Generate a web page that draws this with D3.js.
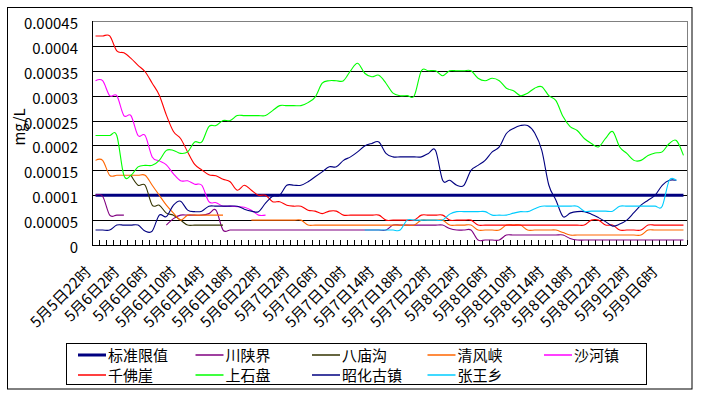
<!DOCTYPE html>
<html><head><meta charset="utf-8">
<script src="https://cdn.jsdelivr.net/npm/d3@7"></script>
<style>
body{margin:0;background:#fff}
svg{display:block}
text{font-family:"Noto Sans CJK SC","Noto Sans",sans-serif;fill:#000}
</style>
</head><body>
<svg id="c" width="702" height="407"></svg>
<script>
const categories = [
"5月5日22时","5月5日23时",
"5月6日0时","5月6日1时","5月6日2时","5月6日3时","5月6日4时","5月6日5时","5月6日6时","5月6日7时","5月6日8时","5月6日9时","5月6日10时","5月6日11时",
"5月6日12时","5月6日13时","5月6日14时","5月6日15时","5月6日16时","5月6日17时","5月6日18时","5月6日19时","5月6日20时","5月6日21时","5月6日22时","5月6日23时",
"5月7日0时","5月7日1时","5月7日2时","5月7日3时","5月7日4时","5月7日5时","5月7日6时","5月7日7时","5月7日8时","5月7日9时","5月7日10时","5月7日11时",
"5月7日12时","5月7日13时","5月7日14时","5月7日15时","5月7日16时","5月7日17时","5月7日18时","5月7日19时","5月7日20时","5月7日21时","5月7日22时","5月7日23时",
"5月8日0时","5月8日1时","5月8日2时","5月8日3时","5月8日4时","5月8日5时","5月8日6时","5月8日7时","5月8日8时","5月8日9时","5月8日10时","5月8日11时",
"5月8日12时","5月8日13时","5月8日14时","5月8日15时","5月8日16时","5月8日17时","5月8日18时","5月8日19时","5月8日20时","5月8日21时","5月8日22时","5月8日23时",
"5月9日0时","5月9日1时","5月9日2时","5月9日3时","5月9日4时","5月9日5时","5月9日6时","5月9日7时","5月9日8时","5月9日9时"];

const tickLabels = ["5月5日22时","5月6日2时","5月6日6时","5月6日10时","5月6日14时","5月6日18时","5月6日22时",
"5月7日2时","5月7日6时","5月7日10时","5月7日14时","5月7日18时","5月7日22时",
"5月8日2时","5月8日6时","5月8日10时","5月8日14时","5月8日18时","5月8日22时","5月9日2时","5月9日6时"];

const yTicks = [0,0.00005,0.0001,0.00015,0.0002,0.00025,0.0003,0.00035,0.0004,0.00045];
const yTickLabels = ["0","0.00005","0.0001","0.00015","0.0002","0.00025","0.0003","0.00035","0.0004","0.00045"];

const seriesNames = ["标准限值","川陕界","八庙沟","清风峡","沙河镇","千佛崖","上石盘","昭化古镇","张王乡"];
const seriesColors = ["#000080","#800080","#333300","#FF6600","#FF00FF","#FF0000","#00FF00","#000080","#00CCFF"];

const biaozhun = [
0.0001,0.0001,0.0001,0.0001,0.0001,0.0001,0.0001,0.0001,0.0001,0.0001,0.0001,0.0001,
0.0001,0.0001,0.0001,0.0001,0.0001,0.0001,0.0001,0.0001,0.0001,0.0001,0.0001,0.0001,
0.0001,0.0001,0.0001,0.0001,0.0001,0.0001,0.0001,0.0001,0.0001,0.0001,0.0001,0.0001,
0.0001,0.0001,0.0001,0.0001,0.0001,0.0001,0.0001,0.0001,0.0001,0.0001,0.0001,0.0001,
0.0001,0.0001,0.0001,0.0001,0.0001,0.0001,0.0001,0.0001,0.0001,0.0001,0.0001,0.0001,
0.0001,0.0001,0.0001,0.0001,0.0001,0.0001,0.0001,0.0001,0.0001,0.0001,0.0001,0.0001,
0.0001,0.0001,0.0001,0.0001,0.0001,0.0001,0.0001,0.0001,0.0001,0.0001,0.0001,0.0001];

const chuanshanjie = [
0.0001,0.000098,0.00006,0.00006,0.00006,null,null,null,null,null,0.00004,0.000053,
0.00006,0.00006,0.00006,0.00006,0.000063,0.00007,0.00003,0.00003,0.00003,0.00003,0.00003,0.00003,
0.00003,0.00003,0.00003,0.00003,0.00003,0.00003,0.00003,0.00003,0.00003,0.00003,0.00003,0.00003,
0.00003,0.00003,0.00003,0.00003,0.00003,0.00003,0.00004,0.00004,0.00004,0.00004,0.00004,0.00004,
0.00004,0.00004,0.000033,0.00003,0.00003,0.00003,0.00001,0.00001,0.00001,0.00001,0.00002,0.00002,
0.00002,0.00002,0.00002,0.00002,0.00002,0.00002,0.00002,0.000013,0.00001,0.00001,0.00001,0.00001,
0.00001,0.00001,0.00001,0.00001,0.00001,0.00001,0.00001,0.00001,0.00001,0.00001,0.00001,0.00001];

const bamiaogou = [
null,null,null,null,null,0.00014,0.00012,0.00012,0.00008,0.00008,0.000064,0.00006,
0.00005,0.00004,0.00004,0.00004,0.00004,0.00004,0.00004,null,null,null,null,null,
null,null,null,null,null,null,null,null,null,null,null,null,
null,null,null,null,null,null,null,null,null,null,null,null,
null,null,null,null,null,null,null,null,null,null,null,null,
null,null,null,null,null,null,null,null,null,null,null,null,
null,null,null,null,null,null,null,null,null,null,null,null];

const qingfengxia = [
0.00017,0.00017,0.00014,0.00014,0.00014,0.00014,0.00014,0.00014,0.00012,0.0001,0.00008,0.000064,
0.00005,0.00006,0.00006,0.00006,0.00006,0.00006,0.00006,null,null,null,0.00005,0.00005,
0.00005,0.00005,0.00005,0.00005,0.00005,0.00005,0.00004,0.00004,0.00004,0.00004,0.00004,0.00004,
0.00004,0.00004,0.00004,0.00004,0.00004,0.00004,0.00004,0.00004,0.00004,0.00004,0.00005,0.00005,
0.00005,0.00005,0.00004,0.00004,0.00004,0.00004,0.00003,0.00003,0.00003,0.00003,0.00004,0.00004,
0.00004,0.00003,0.00003,0.00003,0.00003,0.00003,0.000025,0.00002,0.00002,0.00002,0.00002,0.00002,
0.00002,0.00002,0.00002,0.00002,0.00002,0.00002,0.00003,0.00003,0.00003,0.00003,0.00003,0.00003];

const shahezhen = [
0.00033,0.00033,0.0003,0.0003,0.00026,0.00026,0.00022,0.00022,0.000177,0.000169,0.000161,0.000143,
0.000129,0.000129,0.000122,0.00012,0.000087,0.000085,0.000078,0.000078,0.000077,0.000076,0.00007,0.00006,
0.00006,null,null,null,null,null,null,null,null,null,null,null,
null,null,null,null,null,null,null,null,null,null,null,null,
null,null,null,null,null,null,null,null,null,null,null,null,
null,null,null,null,null,null,null,null,null,null,null,null,
null,null,null,null,null,null,null,null,null,null,null,null];

const qianfoya = [
0.00042,0.00042,0.00042,0.00039,0.000386,0.000375,0.000361,0.000348,0.000325,0.000301,0.000261,0.000228,
0.000214,0.000187,0.000162,0.000151,0.000141,0.000139,0.000132,0.000127,0.00011,0.00012,0.00011,0.0001,
0.0001,0.000087,0.000087,0.00008,0.000078,0.000078,0.00007,0.000068,0.000063,0.000068,0.000068,0.00006,
0.00006,0.00006,0.00006,0.00006,0.00006,0.00005,0.00005,0.00005,0.00005,0.00005,0.00006,0.00006,
0.00006,0.00006,0.00005,0.00005,0.00005,0.00005,0.00004,0.00004,0.00004,0.00004,0.00004,0.00004,
0.00004,0.00004,0.00004,0.00004,0.00004,0.00004,0.00004,0.00004,0.00004,0.00004,0.00005,0.00005,
0.00004,0.00004,0.00003,0.00003,0.00003,0.00003,0.00004,0.00004,0.00004,0.00004,0.00004,0.00004];

const shangshipan = [
0.00022,0.00022,0.00022,0.00022,0.00014,0.00014,0.000157,0.00016,0.00016,0.00017,0.00019,0.00019,
0.000184,0.000187,0.000207,0.000207,0.000238,0.00024,0.00025,0.00025,0.00026,0.00026,0.00026,0.00026,
0.00026,0.00027,0.00028,0.00028,0.00028,0.00028,0.000286,0.000297,0.000325,0.00033,0.00033,0.00033,
0.00035,0.000365,0.000345,0.000338,0.000341,0.000325,0.000305,0.0003,0.0003,0.0003,0.00035,0.00035,
0.00035,0.00034,0.00035,0.00035,0.00035,0.00035,0.000335,0.00033,0.000335,0.00033,0.000315,0.00031,
0.0003,0.000305,0.000315,0.000318,0.0003,0.00029,0.000258,0.000238,0.00023,0.000214,0.000204,0.000197,
0.000214,0.000228,0.000197,0.000184,0.00017,0.00017,0.00018,0.000185,0.000187,0.000204,0.00021,0.00018];

const zhaohuaguzhen = [
0.00003,0.00003,0.00003,0.00004,0.00004,0.00004,0.00004,0.000028,0.000028,0.00006,0.000057,0.00008,
0.000088,0.00007,0.000067,0.000068,0.000078,0.000078,0.000078,0.000078,0.000078,0.000072,0.000068,0.000067,
0.000084,0.000098,0.0001,0.00012,0.00012,0.00012,0.000127,0.000137,0.000147,0.000157,0.000157,0.00017,
0.000177,0.000187,0.000199,0.000204,0.000207,0.000184,0.000177,0.000177,0.000177,0.000177,0.000177,0.000184,
0.00019,0.00013,0.00013,0.00012,0.00012,0.00015,0.00016,0.00017,0.000187,0.000197,0.000224,0.000234,
0.00024,0.00024,0.000225,0.00019,0.00012,0.00009,0.000057,0.000064,0.000067,0.000067,0.000062,0.000055,
0.000047,0.000038,0.000042,0.00005,0.000065,0.00008,0.00009,0.0001,0.00012,0.00013,0.00013,null];

const zhangwangxiang = [
null,null,null,null,null,null,null,null,null,null,null,null,
null,null,null,null,null,null,null,null,null,null,null,null,
null,null,null,null,null,null,null,null,null,null,null,null,
null,null,0.00003,0.00003,0.00003,0.00003,0.00003,0.00003,0.00005,0.00005,0.00005,0.00005,
0.00005,0.00005,0.000062,0.000067,0.000067,0.000067,0.000067,0.000067,0.00006,0.00006,0.00006,0.000064,
0.000067,0.000067,0.000073,0.000078,0.000078,0.000078,0.000078,0.000078,0.000078,0.000068,0.000068,0.000068,
0.000068,0.000068,0.000078,0.000078,0.000078,0.000078,0.000078,0.000078,0.000078,0.00013,0.00013,null];

const seriesData = [biaozhun, chuanshanjie, bamiaogou, qingfengxia, shahezhen, qianfoya, shangshipan, zhaohuaguzhen, zhangwangxiang];

const W = 702, H = 407;
const L = 92, R = 687, T = 21, B = 245;
const svg = d3.select("#c");
svg.append("rect").attr("width", W).attr("height", H).attr("fill", "#fff");
svg.append("rect").attr("x", 7.5).attr("y", 7.5).attr("width", 684.5).attr("height", 381.5)
  .attr("fill", "none").attr("stroke", "#000").attr("stroke-width", 1);

const x = d3.scaleBand().domain(categories).range([L, R]);
const bw = x.bandwidth();
const cx = c => x(c) + bw / 2;
const y = d3.scaleLinear().domain([0, 0.00045]).range([B, T]);

// y axis with gridlines
const gy = svg.append("g").attr("transform", `translate(${L},0)`)
  .call(d3.axisLeft(y).tickValues(yTicks).tickFormat((d, i) => yTickLabels[i])
    .tickSizeInner(-(R - L)).tickSizeOuter(0).tickPadding(14));
gy.attr("font-family", null).attr("font-size", null);
gy.select(".domain").remove();
gy.selectAll(".tick line")
  .attr("stroke", d => d === 0.00045 ? "#808080" : "#000")
  .attr("shape-rendering", "crispEdges");
gy.selectAll(".tick text").attr("font-size", 15).attr("dy", "0.5em").attr("fill", "#000");

// plot border right (gray) and left axis (black)
svg.append("line").attr("x1", R + 0.5).attr("x2", R + 0.5).attr("y1", y(0.00045)).attr("y2", B)
  .attr("stroke", "#808080").attr("shape-rendering", "crispEdges");
svg.append("line").attr("x1", L + 0.5).attr("x2", L + 0.5).attr("y1", y(0.00045)).attr("y2", B + 0.5)
  .attr("stroke", "#000").attr("shape-rendering", "crispEdges");

// x tick marks at category boundaries (inside)
svg.append("g").selectAll("line").data(categories).join("line")
  .attr("x1", c => Math.round(x(c) + bw) + 0.5).attr("x2", c => Math.round(x(c) + bw) + 0.5)
  .attr("y1", B - 5).attr("y2", B)
  .attr("stroke", "#000").attr("shape-rendering", "crispEdges");

// x labels
svg.append("g").selectAll("text").data(tickLabels).join("text")
  .attr("transform", c => `translate(${cx(c) - 3.5},273) rotate(-45)`)
  .attr("text-anchor", "end").attr("font-size", 15).text(c => c);

// y title
svg.append("text").attr("transform", "translate(25,127) rotate(-90)")
  .attr("text-anchor", "middle").attr("font-size", 15).text("mg/L");

// series
const line = d3.line().defined(d => d != null)
  .x((d, i) => cx(categories[i])).y(d => y(d))
  .curve(d3.curveCardinal.tension(0));
const gl = svg.append("g");
seriesData.forEach((arr, k) => {
  gl.append("path").datum(arr)
    .attr("d", k === 0 ? d3.line().x((d, i) => cx(categories[i])).y(d => y(d))(arr) : line(arr))
    .attr("fill", "none").attr("stroke", seriesColors[k])
    .attr("stroke-width", k === 0 ? 3 : 1.1);
});

// legend
svg.append("rect").attr("x", 66.5).attr("y", 343.5).attr("width", 580).attr("height", 41)
  .attr("fill", "#fff").attr("stroke", "#000");
const colX = [78, 195.5, 312, 427.5, 544];
const rowY = [355, 375];
const lg = svg.append("g");
seriesNames.forEach((n, k) => {
  const cxl = colX[k % 5], ry = rowY[Math.floor(k / 5)];
  lg.append("line").attr("x1", cxl).attr("x2", cxl + 28).attr("y1", ry).attr("y2", ry)
    .attr("stroke", seriesColors[k]).attr("stroke-width", k === 0 ? 3 : 1.5);
  lg.append("text").attr("x", cxl + 30).attr("y", ry + 6).attr("font-size", 15).text(n);
});
</script>
</body></html>
